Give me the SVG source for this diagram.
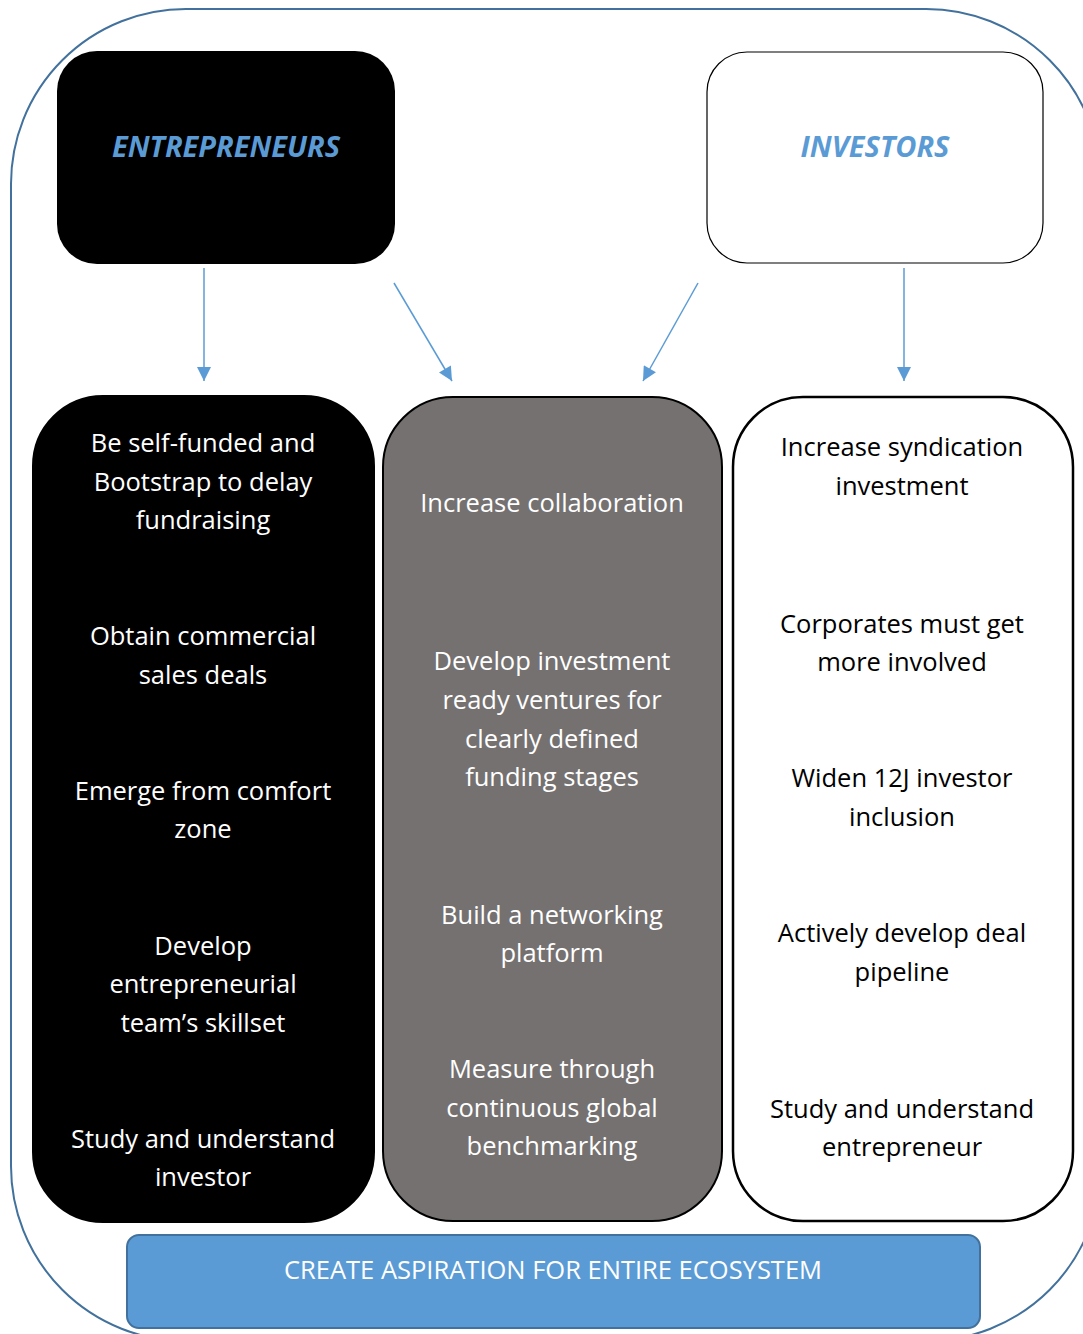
<svg xmlns="http://www.w3.org/2000/svg" width="1083" height="1334" viewBox="0 0 1083 1334">
<style>
.t{font-family:"Open Sans","Noto Sans",sans-serif;font-size:25.5px;text-anchor:middle}
.w{fill:#ffffff}
.b{fill:#000000}
.h{font-family:"Open Sans","Noto Sans",sans-serif;font-size:29px;font-weight:bold;font-style:italic;fill:#5B9BD5;text-anchor:middle}
.conn{stroke:#5B9BD5;stroke-width:1.5;fill:none}
</style>
<defs>
<marker id="ah" viewBox="0 0 10 10" refX="10" refY="5" markerWidth="15" markerHeight="14" markerUnits="userSpaceOnUse" orient="auto"><path d="M0,0 L10,5 L0,10 z" fill="#5B9BD5"/></marker>
</defs>
<rect x="11" y="9" width="1090" height="1332" rx="175" ry="175" fill="#ffffff" stroke="#41719C" stroke-width="2"/>
<g id="entrepreneurs">
<rect x="57" y="51" width="338" height="213" rx="40" fill="#000000"/>
<text class="h" x="226" y="157">ENTREPRENEURS</text>
</g>
<g id="investors">
<rect x="707" y="52" width="336" height="211" rx="40" fill="#ffffff" stroke="#000000" stroke-width="1.2"/>
<text class="h" x="875" y="157">INVESTORS</text>
</g>
<g id="connectors">
<line class="conn" x1="204" y1="268" x2="204" y2="381" marker-end="url(#ah)"/>
<line class="conn" x1="394" y1="283" x2="452" y2="381" marker-end="url(#ah)"/>
<line class="conn" x1="698" y1="283" x2="643" y2="381" marker-end="url(#ah)"/>
<line class="conn" x1="904" y1="268" x2="904" y2="381" marker-end="url(#ah)"/>
</g>
<g id="col-entrepreneurs">
<rect x="33" y="396" width="341" height="826" rx="70" fill="#000000" stroke="#000000" stroke-width="2"/>
<text class="t w" x="203" y="452">Be self-funded and</text>
<text class="t w" x="203" y="491">Bootstrap to delay</text>
<text class="t w" x="203" y="529">fundraising</text>
<text class="t w" x="203" y="645">Obtain commercial</text>
<text class="t w" x="203" y="684">sales deals</text>
<text class="t w" x="203" y="800">Emerge from comfort</text>
<text class="t w" x="203" y="838">zone</text>
<text class="t w" x="203" y="955">Develop</text>
<text class="t w" x="203" y="993">entrepreneurial</text>
<text class="t w" x="203" y="1032">team’s skillset</text>
<text class="t w" x="203" y="1148">Study and understand</text>
<text class="t w" x="203" y="1186">investor</text>
</g>
<g id="col-shared">
<rect x="383" y="397" width="339" height="824" rx="70" fill="#757170" stroke="#000000" stroke-width="2"/>
<text class="t w" x="552" y="512">Increase collaboration</text>
<text class="t w" x="552" y="670">Develop investment</text>
<text class="t w" x="552" y="709">ready ventures for</text>
<text class="t w" x="552" y="748">clearly defined</text>
<text class="t w" x="552" y="786">funding stages</text>
<text class="t w" x="552" y="924">Build a networking</text>
<text class="t w" x="552" y="962">platform</text>
<text class="t w" x="552" y="1078">Measure through</text>
<text class="t w" x="552" y="1117">continuous global</text>
<text class="t w" x="552" y="1155">benchmarking</text>
</g>
<g id="col-investors">
<rect x="733" y="397" width="340" height="824" rx="70" fill="#ffffff" stroke="#000000" stroke-width="2.5"/>
<text class="t b" x="902" y="456">Increase syndication</text>
<text class="t b" x="902" y="495">investment</text>
<text class="t b" x="902" y="633">Corporates must get</text>
<text class="t b" x="902" y="671">more involved</text>
<text class="t b" x="902" y="787">Widen 12J investor</text>
<text class="t b" x="902" y="826">inclusion</text>
<text class="t b" x="902" y="942">Actively develop deal</text>
<text class="t b" x="902" y="981">pipeline</text>
<text class="t b" x="902" y="1118">Study and understand</text>
<text class="t b" x="902" y="1156">entrepreneur</text>
</g>
<g id="aspiration">
<rect x="127" y="1235" width="853" height="93" rx="12" fill="#5B9BD5" stroke="#41719C" stroke-width="2"/>
<text class="t w" x="553" y="1279">CREATE ASPIRATION FOR ENTIRE ECOSYSTEM</text>
</g>
</svg>
